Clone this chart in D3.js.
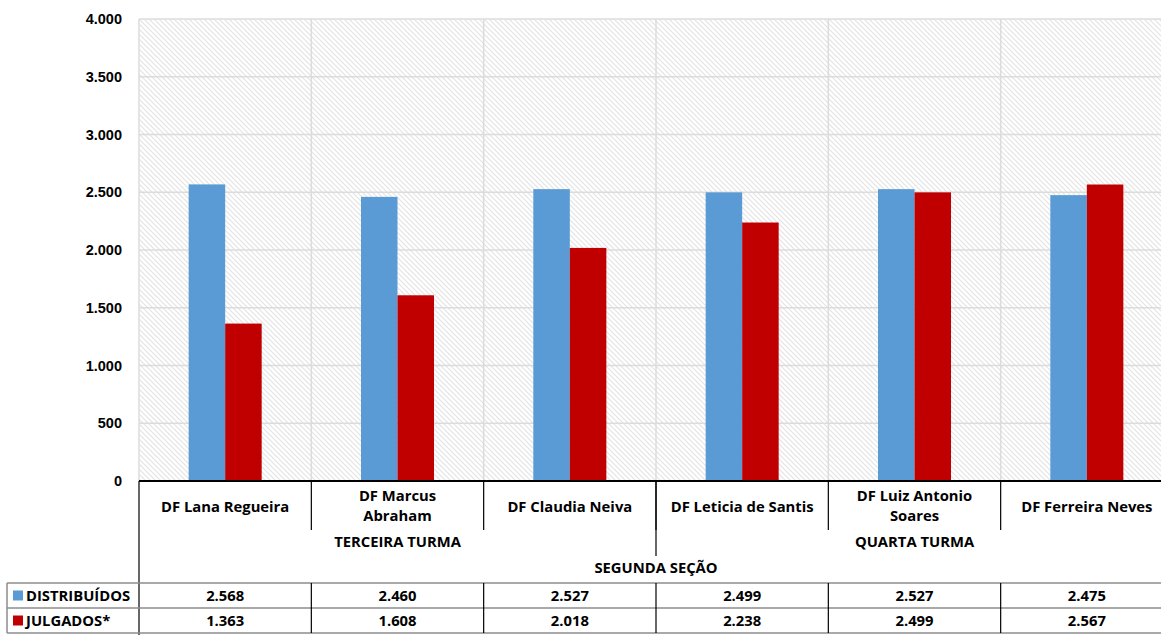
<!DOCTYPE html>
<html>
<head>
<meta charset="utf-8">
<script src="https://cdn.jsdelivr.net/npm/d3@7"></script>
<style>
  html, body { margin: 0; padding: 0; background: #fff; }
  svg { display: block; }
</style>
</head>
<body>
<svg id="chart" width="1161" height="635"></svg>
<script>
// Judges of the Segunda Seção, grouped by Turma
const categories = [
  ["DF Lana Regueira"],
  ["DF Marcus", "Abraham"],
  ["DF Claudia Neiva"],
  ["DF Leticia de Santis"],
  ["DF Luiz Antonio", "Soares"],
  ["DF Ferreira Neves"]
];
const turmas = ["TERCEIRA TURMA", "QUARTA TURMA"];
const turmaSizes = [3, 3];
const secao = "SEGUNDA SEÇÃO";

const seriesNames = ["DISTRIBUÍDOS", "JULGADOS*"];
const distribuidos = [2568, 2460, 2527, 2499, 2527, 2475];
const julgados = [1363, 1608, 2018, 2238, 2499, 2567];
const yTicks = [0, 500, 1000, 1500, 2000, 2500, 3000, 3500, 4000];

const colors = ["#5B9BD5", "#C00000"];
const fmt = v => d3.format(",")(v).replace(/,/g, ".");

const svg = d3.select("#chart");
const plot = { left: 139, right: 1173, top: 19, bottom: 481 };

const x = d3.scaleBand()
  .domain(d3.range(categories.length))
  .range([plot.left, plot.right])
  .padding(0);
const xs = d3.scaleBand()
  .domain(seriesNames)
  .range([0, x.bandwidth()])
  .paddingInner(0)
  .paddingOuter(1.36);
const y = d3.scaleLinear().domain([0, 4000]).range([plot.bottom, plot.top]);

// diagonal hatch background
const defs = svg.append("defs");
const pat = defs.append("pattern")
  .attr("id", "hatch")
  .attr("patternUnits", "userSpaceOnUse")
  .attr("width", 5).attr("height", 5);
pat.append("rect").attr("width", 5).attr("height", 5).attr("fill", "#fff");
pat.append("path")
  .attr("d", "M-1,-1 L6,6 M-1,4 L1,6 M4,-1 L6,1")
  .attr("stroke", "#e4e4e4").attr("stroke-width", 1.2);

svg.append("rect")
  .attr("x", plot.left).attr("y", plot.top)
  .attr("width", plot.right - plot.left).attr("height", plot.bottom - plot.top)
  .attr("fill", "url(#hatch)");

// horizontal gridlines
svg.append("g").selectAll("line").data(yTicks).join("line")
  .attr("x1", plot.left).attr("x2", plot.right)
  .attr("y1", d => y(d)).attr("y2", d => y(d))
  .attr("stroke", "#dcdcdc").attr("stroke-width", 1.5);

// vertical gridlines at category boundaries
svg.append("g").selectAll("line").data(d3.range(categories.length + 1)).join("line")
  .attr("x1", i => plot.left + i * x.step()).attr("x2", i => plot.left + i * x.step())
  .attr("y1", plot.top).attr("y2", plot.bottom)
  .attr("stroke", "#dcdcdc").attr("stroke-width", 1.5);

// y axis labels
const yAxis = d3.axisLeft(y).tickValues(yTicks).tickFormat(fmt).tickSize(0).tickPadding(17);
svg.append("g")
  .attr("transform", `translate(${plot.left},0)`)
  .call(yAxis)
  .call(g => g.select(".domain").remove())
  .call(g => g.selectAll("text")
    .attr("font-family", "Liberation Sans, Arial, sans-serif")
    .attr("font-weight", "bold")
    .attr("font-size", 14.5)
    .attr("fill", "#000"));

// bars
const series = [distribuidos, julgados];
series.forEach((vals, s) => {
  svg.append("g").selectAll("rect").data(vals).join("rect")
    .attr("x", (d, i) => x(i) + xs(seriesNames[s]))
    .attr("width", xs.bandwidth())
    .attr("y", d => y(d))
    .attr("height", d => y(0) - y(d))
    .attr("fill", colors[s]);
});

// category axis (multi-level)
const font = "'Open Sans', 'Noto Sans', sans-serif";
const fs = 14.8;
const axisG = svg.append("g");
axisG.append("line")
  .attr("x1", plot.left).attr("x2", plot.right)
  .attr("y1", plot.bottom).attr("y2", plot.bottom)
  .attr("stroke", "#000").attr("stroke-width", 2);

// separators between judges
axisG.selectAll(".sep").data(d3.range(1, categories.length)).join("line")
  .attr("x1", i => plot.left + i * x.step()).attr("x2", i => plot.left + i * x.step())
  .attr("y1", plot.bottom).attr("y2", 530)
  .attr("stroke", "#000").attr("stroke-width", 1.2);

// separators between turmas
let cum = 0;
const turmaBounds = turmaSizes.map(n => { const s = cum; cum += n; return [s, cum]; });
turmaBounds.slice(1).forEach(([s]) => {
  axisG.append("line")
    .attr("x1", plot.left + s * x.step()).attr("x2", plot.left + s * x.step())
    .attr("y1", plot.bottom).attr("y2", 556)
    .attr("stroke", "#000").attr("stroke-width", 1.2);
});

// left edge of the axis area and legend column
axisG.append("line")
  .attr("x1", plot.left).attr("x2", plot.left)
  .attr("y1", plot.bottom).attr("y2", 635)
  .attr("stroke", "#000").attr("stroke-width", 1.2);

// judge names
categories.forEach((lines, i) => {
  const cx = x(i) + x.bandwidth() / 2;
  const t = axisG.append("text")
    .attr("text-anchor", "middle")
    .attr("font-family", font).attr("font-weight", "bold").attr("font-size", fs)
    .attr("fill", "#000");
  const y0 = lines.length === 1 ? 512 : 501;
  lines.forEach((l, k) => {
    t.append("tspan").attr("x", cx).attr("y", y0 + k * 20).text(l);
  });
});

// turma labels
turmaBounds.forEach(([s, e], k) => {
  axisG.append("text")
    .attr("x", plot.left + (s + e) / 2 * x.step())
    .attr("y", 547)
    .attr("text-anchor", "middle")
    .attr("font-family", font).attr("font-weight", "bold").attr("font-size", fs)
    .text(turmas[k]);
});

// secao label
axisG.append("text")
  .attr("x", (plot.left + plot.right) / 2)
  .attr("y", 573)
  .attr("text-anchor", "middle")
  .attr("font-family", font).attr("font-weight", "bold").attr("font-size", fs)
  .text(secao);

// data table
const rowTop = 583, rowH = 25;
const tbl = svg.append("g");
[0, 1, 2].forEach(r => {
  tbl.append("line")
    .attr("x1", 7).attr("x2", plot.right)
    .attr("y1", rowTop + r * rowH).attr("y2", rowTop + r * rowH)
    .attr("stroke", "#8c8c8c").attr("stroke-width", 1.5);
});
tbl.append("line")
  .attr("x1", 7).attr("x2", 7)
  .attr("y1", rowTop).attr("y2", rowTop + 2 * rowH)
  .attr("stroke", "#8c8c8c").attr("stroke-width", 1.5);
d3.range(1, categories.length).forEach(i => {
  tbl.append("line")
    .attr("x1", plot.left + i * x.step()).attr("x2", plot.left + i * x.step())
    .attr("y1", rowTop).attr("y2", rowTop + 2 * rowH)
    .attr("stroke", "#000").attr("stroke-width", 1.2);
});

series.forEach((vals, s) => {
  const cy = rowTop + s * rowH + rowH / 2;
  tbl.append("rect")
    .attr("x", 13).attr("y", cy - 5).attr("width", 10).attr("height", 10)
    .attr("fill", colors[s]);
  tbl.append("text")
    .attr("x", 26).attr("y", cy + 5.5)
    .attr("font-family", font).attr("font-weight", "bold").attr("font-size", fs)
    .text(seriesNames[s]);
  tbl.append("g").selectAll("text").data(vals).join("text")
    .attr("x", (d, i) => x(i) + x.bandwidth() / 2)
    .attr("y", cy + 5.5)
    .attr("text-anchor", "middle")
    .attr("font-family", font).attr("font-weight", "bold").attr("font-size", fs)
    .text(d => fmt(d));
});
</script>
</body>
</html>
